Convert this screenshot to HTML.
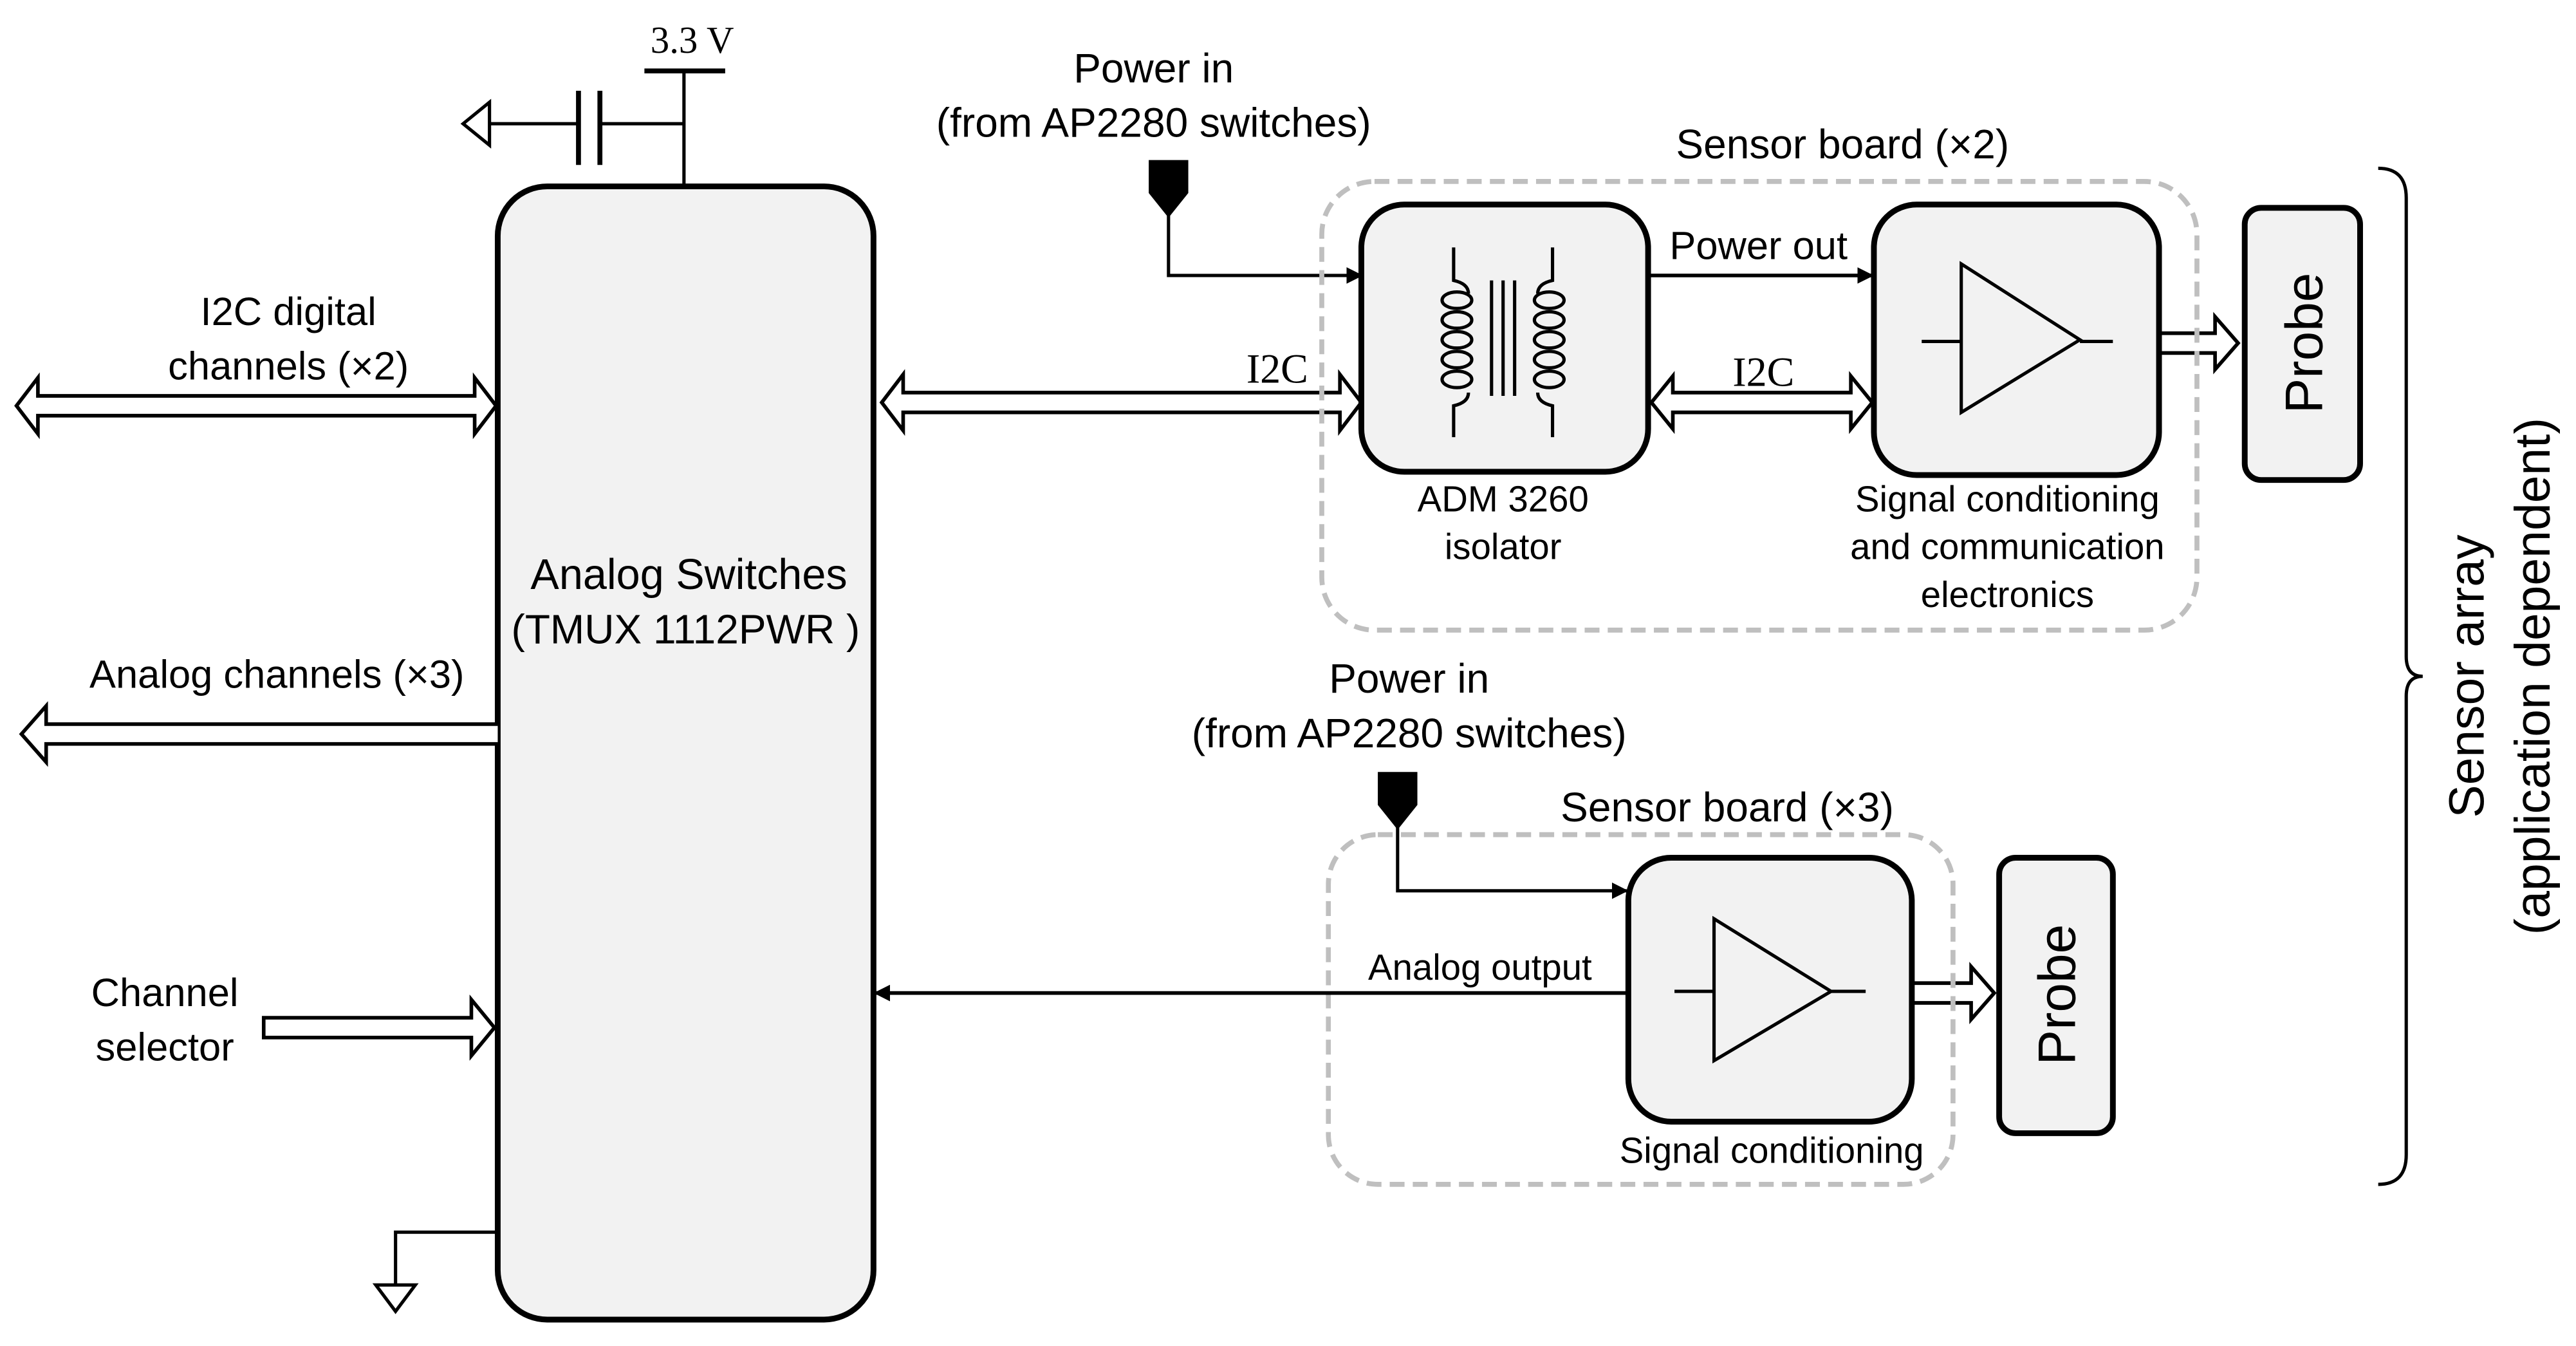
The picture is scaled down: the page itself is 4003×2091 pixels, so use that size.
<!DOCTYPE html>
<html><head><meta charset="utf-8"><style>
html,body{margin:0;padding:0;background:#fff;}
svg{display:block;}
text{font-family:"Liberation Sans",sans-serif;fill:#000;}
.s{font-family:"Liberation Serif",serif;}
</style></head><body>
<svg width="4003" height="2091" viewBox="0 0 1563 816" preserveAspectRatio="none" xmlns="http://www.w3.org/2000/svg">
<defs>
<marker id="ah" markerWidth="10" markerHeight="10" refX="9" refY="5" orient="auto" markerUnits="userSpaceOnUse">
<path d="M0,0 L10,5 L0,10 z" fill="#000"/></marker>
</defs>
<g fill="none" stroke="#000" stroke-width="2">
<line x1="391" y1="43" x2="440" y2="43" stroke-width="3"/>
<line x1="415" y1="43" x2="415" y2="112"/>
<line x1="415" y1="75" x2="364" y2="75"/>
<line x1="364" y1="55" x2="364" y2="100" stroke-width="3"/>
<line x1="351" y1="55" x2="351" y2="100" stroke-width="3"/>
<line x1="351" y1="75" x2="297" y2="75"/>
<path d="M297,62 L297,88 L281,75 z" stroke-width="2"/>
<path d="M302,747 L240,747 L240,779"/>
<path d="M228,779 L252,779 L240,795 z"/>
</g>
<rect x="302" y="113" width="228" height="687" rx="30" fill="#f2f2f2" stroke="#000" stroke-width="3.5"/>
<text x="418" y="357" font-size="26" text-anchor="middle">Analog Switches</text>
<text x="416" y="390" font-size="25" text-anchor="middle">(TMUX 1112PWR )</text>
<text x="420" y="32" font-size="23" text-anchor="middle" class="s">3.3 V</text>
<g fill="#fff" stroke="#000" stroke-width="2.2">
<path d="M10,246 L23,229 L23,240 L288,240 L288,229 L301,246 L288,263 L288,252 L23,252 L23,263 z"/>
<path d="M535,244 L548,227 L548,238 L813,238 L813,227 L826,244 L813,261 L813,250 L548,250 L548,261 z"/>
<path d="M1002,244 L1015,228 L1015,238 L1123,238 L1123,228 L1136,244 L1123,260 L1123,250 L1015,250 L1015,260 z"/>
<path d="M302,439 L28,439 L28,428 L13,445 L28,462 L28,451 L302,451"/>
<path d="M160,617 L286,617 L286,606 L300,623 L286,640 L286,629 L160,629 z"/>
<path d="M1311,202 L1344,202 L1344,192 L1358,208 L1344,224 L1344,214 L1311,214"/>
<path d="M1161,596 L1196,596 L1196,586 L1210,602 L1196,618 L1196,608 L1161,608"/>
</g>
<text x="175" y="197" font-size="24" text-anchor="middle">I2C digital</text>
<text x="175" y="230" font-size="24" text-anchor="middle">channels (×2)</text>
<text x="168" y="417" font-size="24" text-anchor="middle">Analog channels (×3)</text>
<text x="100" y="610" font-size="24" text-anchor="middle">Channel</text>
<text x="100" y="643" font-size="24" text-anchor="middle">selector</text>
<text x="775" y="232" font-size="25" text-anchor="middle" class="s">I2C</text>
<text x="1070" y="234" font-size="25" text-anchor="middle" class="s">I2C</text>
<text x="700" y="50" font-size="25" text-anchor="middle">Power in</text>
<text x="700" y="83" font-size="25" text-anchor="middle">(from AP2280 switches)</text>
<path d="M697,97 L721,97 L721,117 L709,132 L697,117 z" fill="#000"/>
<path d="M709,130 L709,167 L826,167" fill="none" stroke="#000" stroke-width="2" marker-end="url(#ah)"/>
<rect x="802" y="110" width="531" height="272" rx="32" fill="none" stroke="#bfbfbf" stroke-width="3" stroke-dasharray="9,5"/>
<text x="1118" y="96" font-size="25" text-anchor="middle">Sensor board (×2)</text>
<rect x="826" y="124" width="174" height="162" rx="26" fill="#f2f2f2" stroke="#000" stroke-width="3.5"/>
<g fill="none" stroke="#000" stroke-width="2">
<path d="M882,150 L882,170 Q891,172 891,178 M882,265 L882,246 Q891,244 891,238"/>
<path d="M942,150 L942,170 Q933,172 933,178 M942,265 L942,246 Q933,244 933,238"/>
<ellipse cx="884" cy="182" rx="9" ry="5"/><ellipse cx="884" cy="194" rx="9" ry="5"/><ellipse cx="884" cy="206" rx="9" ry="5"/><ellipse cx="884" cy="218" rx="9" ry="5"/><ellipse cx="884" cy="230" rx="9" ry="5"/>
<ellipse cx="940" cy="182" rx="9" ry="5"/><ellipse cx="940" cy="194" rx="9" ry="5"/><ellipse cx="940" cy="206" rx="9" ry="5"/><ellipse cx="940" cy="218" rx="9" ry="5"/><ellipse cx="940" cy="230" rx="9" ry="5"/>
<line x1="905" y1="170" x2="905" y2="240"/><line x1="912" y1="170" x2="912" y2="240"/><line x1="919" y1="170" x2="919" y2="240"/>
</g>
<text x="912" y="310" font-size="22" text-anchor="middle">ADM 3260</text>
<text x="912" y="339" font-size="22" text-anchor="middle">isolator</text>
<line x1="1000" y1="167" x2="1136" y2="167" stroke="#000" stroke-width="2.2" marker-end="url(#ah)"/>
<text x="1067" y="157" font-size="24" text-anchor="middle">Power out</text>
<rect x="1137" y="124" width="173" height="164" rx="26" fill="#f2f2f2" stroke="#000" stroke-width="3.5"/>
<g fill="none" stroke="#000" stroke-width="2">
<path d="M1190,160 L1190,250 L1262,206 z"/>
<line x1="1166" y1="207" x2="1190" y2="207"/><line x1="1262" y1="207" x2="1282" y2="207"/>
</g>
<text x="1218" y="310" font-size="22" text-anchor="middle">Signal conditioning</text>
<text x="1218" y="339" font-size="22" text-anchor="middle">and communication</text>
<text x="1218" y="368" font-size="22" text-anchor="middle">electronics</text>
<rect x="1362" y="126" width="70" height="165" rx="10" fill="#f2f2f2" stroke="#000" stroke-width="3.5"/>
<text transform="translate(1409,208) rotate(-90)" font-size="32" text-anchor="middle">Probe</text>
<text x="855" y="420" font-size="25" text-anchor="middle">Power in</text>
<text x="855" y="453" font-size="25" text-anchor="middle">(from AP2280 switches)</text>
<path d="M836,468 L860,468 L860,488 L848,503 L836,488 z" fill="#000"/>
<path d="M848,500 L848,540 L987,540" fill="none" stroke="#000" stroke-width="2" marker-end="url(#ah)"/>
<rect x="806" y="506" width="379" height="212" rx="30" fill="none" stroke="#bfbfbf" stroke-width="3" stroke-dasharray="9,5"/>
<text x="1048" y="498" font-size="25" text-anchor="middle">Sensor board (×3)</text>
<rect x="988" y="520" width="172" height="160" rx="26" fill="#f2f2f2" stroke="#000" stroke-width="3.5"/>
<g fill="none" stroke="#000" stroke-width="2">
<path d="M1040,557 L1040,643 L1111,601 z"/>
<line x1="1016" y1="601" x2="1040" y2="601"/><line x1="1111" y1="601" x2="1132" y2="601"/>
</g>
<line x1="988" y1="602" x2="531" y2="602" stroke="#000" stroke-width="2.2" marker-end="url(#ah)"/>
<text x="898" y="594" font-size="22" text-anchor="middle">Analog output</text>
<text x="1075" y="705" font-size="22" text-anchor="middle">Signal conditioning</text>
<rect x="1213" y="520" width="69" height="167" rx="10" fill="#f2f2f2" stroke="#000" stroke-width="3.5"/>
<text transform="translate(1259,603) rotate(-90)" font-size="32" text-anchor="middle">Probe</text>
<path d="M1443,102 Q1460,102 1460,120 L1460,398 Q1460,410 1470,410 Q1460,410 1460,422 L1460,700 Q1460,718 1443,718" fill="none" stroke="#000" stroke-width="2"/>
<text transform="translate(1507,410) rotate(-90)" font-size="30" text-anchor="middle">Sensor array</text>
<text transform="translate(1547,410) rotate(-90)" font-size="30" text-anchor="middle">(application dependent)</text>
</svg>
</body></html>
